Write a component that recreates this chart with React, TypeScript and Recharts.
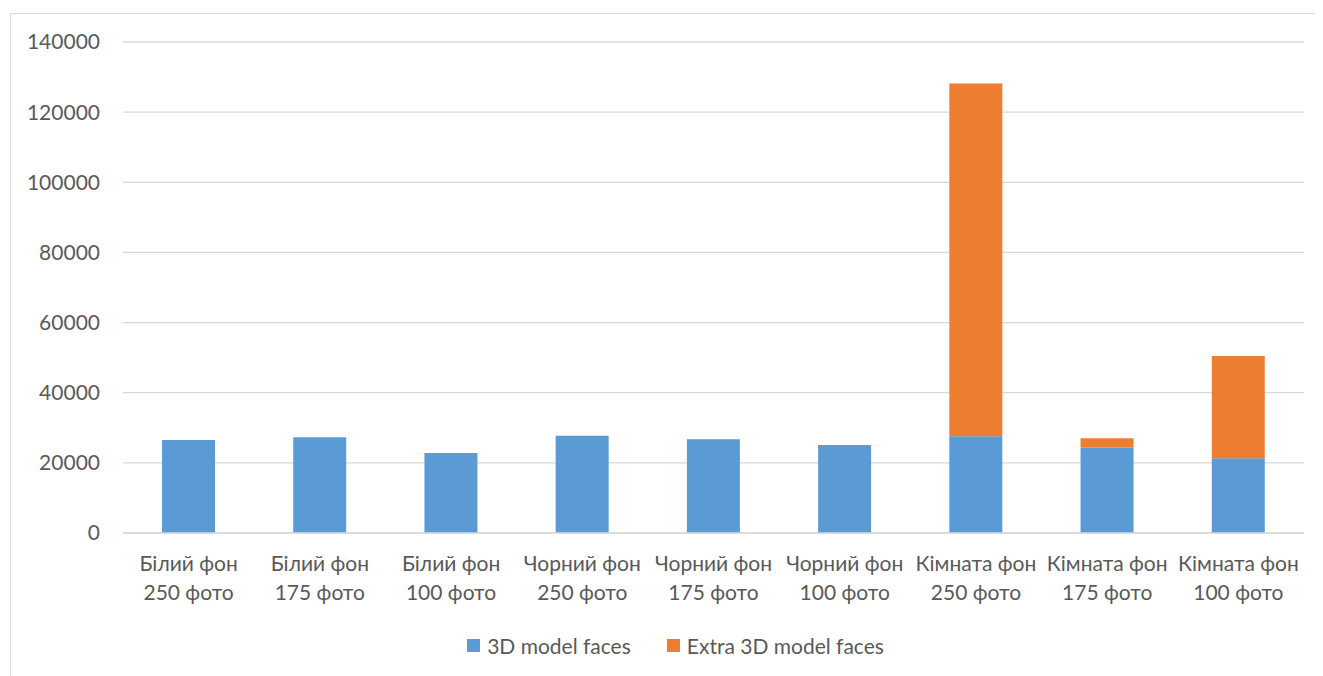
import React from 'react';
import { BarChart, Bar, XAxis, YAxis, CartesianGrid, Legend } from 'recharts';

const backgrounds = ['Білий фон', 'Білий фон', 'Білий фон', 'Чорний фон', 'Чорний фон', 'Чорний фон', 'Кімната фон', 'Кімната фон', 'Кімната фон'];
const photoCounts = ['250 фото', '175 фото', '100 фото', '250 фото', '175 фото', '100 фото', '250 фото', '175 фото', '100 фото'];
const modelFaces = [26500, 27300, 22800, 27700, 26700, 25100, 27600, 24400, 21300];
const extraFaces = [0, 0, 0, 0, 0, 0, 100600, 2600, 29200];
const yTicks = [0, 20000, 40000, 60000, 80000, 100000, 120000, 140000];

const BLUE = '#5B9BD5';
const ORANGE = '#ED7D31';
const TEXT = '#595959';
const FONT = 'Lato, "Noto Sans", sans-serif';
const FONT_SIZE = 21;

const data = backgrounds.map((bg, i) => ({
  bg,
  photos: photoCounts[i],
  key: `${bg} ${photoCounts[i]}`,
  faces: modelFaces[i],
  extra: extraFaces[i],
}));

// two-line category label: background on top, photo count below
const CategoryTick = (props: any) => {
  const { x, y, payload, index } = props;
  const row = data[index] ?? data.find((d) => d.key === payload.value);
  return (
    <text x={x} y={y} textAnchor="middle" fill={TEXT} fontSize={FONT_SIZE} fontFamily={FONT}>
      <tspan x={x} dy={30}>{row?.bg}</tspan>
      <tspan x={x} dy={29}>{row?.photos}</tspan>
    </text>
  );
};

const LegendBox = () => (
  <div style={{ height: 22, display: 'flex', justifyContent: 'center', alignItems: 'center', fontFamily: FONT, fontSize: FONT_SIZE, color: TEXT, paddingLeft: 36 }}>
    <span style={{ display: 'inline-block', width: 13, height: 13, background: BLUE, marginRight: 7 }} />
    <span style={{ marginRight: 36 }}>3D model faces</span>
    <span style={{ display: 'inline-block', width: 13, height: 13, background: ORANGE, marginRight: 7 }} />
    <span>Extra 3D model faces</span>
  </div>
);

export default function App() {
  return (
    <div style={{ marginLeft: 2, marginTop: 5, width: 1313, height: 663, borderLeft: '1px solid #d9d9d9', borderTop: '1px solid #d9d9d9', background: '#fff' }}>
      <BarChart
        width={1312}
        height={662}
        data={data}
        margin={{ top: 28, right: 19, bottom: 20, left: 0 }}
        barSize={53}
      >
        <CartesianGrid vertical={false} stroke="#d9d9d9" strokeWidth={1.3} />
        <XAxis
          dataKey="key"
          interval={0}
          height={101}
          axisLine={{ stroke: '#d9d9d9', strokeWidth: 1.3 }}
          tickLine={false}
          tick={<CategoryTick />}
        />
        <YAxis
          width={112}
          domain={[0, 140000]}
          ticks={yTicks}
          axisLine={false}
          tickLine={false}
          tickSize={0}
          tickMargin={23}
          tick={{ fill: TEXT, fontSize: FONT_SIZE, fontFamily: FONT }}
        />
        <Legend verticalAlign="bottom" content={<LegendBox />} />
        <Bar dataKey="faces" name="3D model faces" stackId="a" fill={BLUE} isAnimationActive={false} />
        <Bar dataKey="extra" name="Extra 3D model faces" stackId="a" fill={ORANGE} isAnimationActive={false} />
      </BarChart>
    </div>
  );
}
